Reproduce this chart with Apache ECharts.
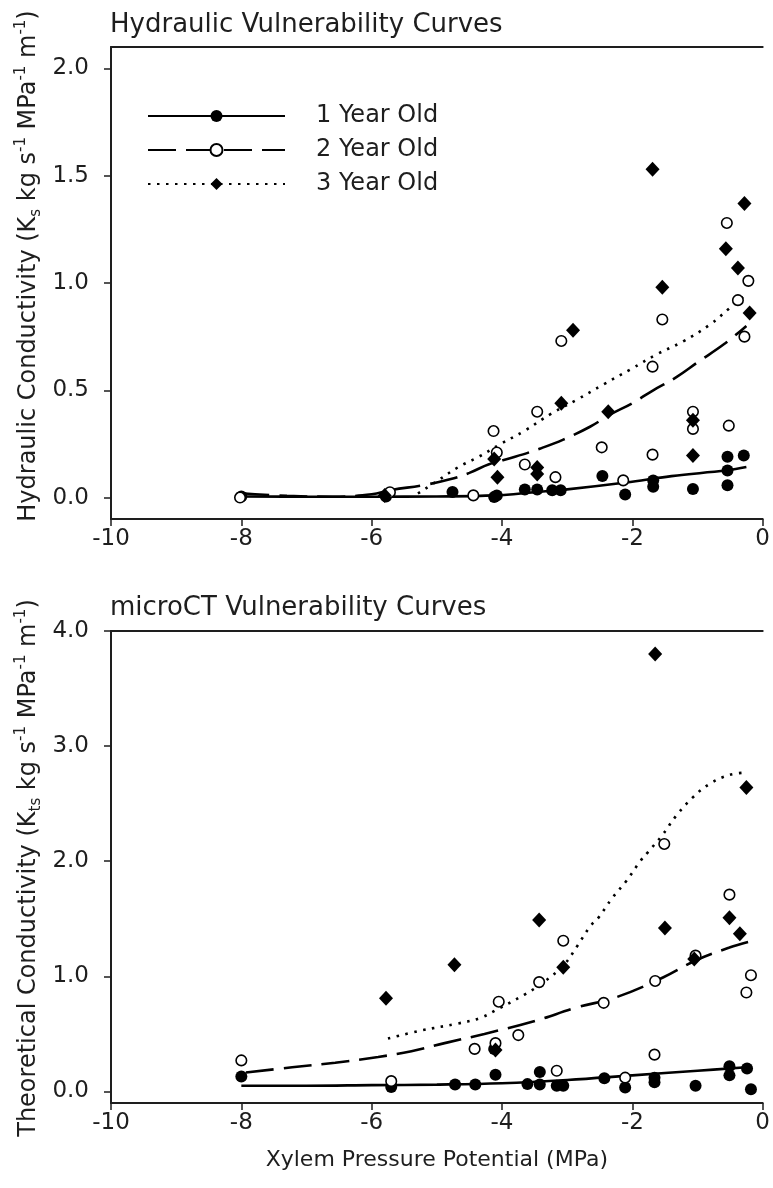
<!DOCTYPE html>
<html>
<head>
<meta charset="utf-8">
<title>Vulnerability Curves</title>
<script src="https://cdn.jsdelivr.net/npm/echarts@6/dist/echarts.min.js"></script>
<style>
    html, body { margin: 0; padding: 0; background: #fff; }
    #chart { width: 773px; height: 1188px; }
</style>
</head>
<body>
<div id="chart"></div>
<script>
// [xylem pressure potential (MPa), conductivity]
// top panel: measured hydraulic conductivity
var hydOne = [[-8.0,0.005],[-5.78,0.005],[-4.76,0.026],[-4.12,0.003],[-4.08,0.01],[-3.65,0.037],[-3.46,0.037],
    [-3.23,0.034],[-3.1,0.034],[-2.46,0.10],[-2.11,0.014],[-1.68,0.08],[-1.68,0.05],[-1.07,0.04],
    [-0.54,0.19],[-0.54,0.126],[-0.54,0.057],[-0.29,0.196]];
var hydTwo = [[-8.02,0.0],[-5.72,0.025],[-4.44,0.01],[-4.13,0.31],[-4.08,0.21],[-3.65,0.154],[-3.46,0.40],
    [-3.18,0.095],[-3.09,0.73],[-2.47,0.234],[-2.14,0.08],[-1.69,0.20],[-1.69,0.61],[-1.54,0.83],
    [-1.07,0.40],[-1.07,0.32],[-0.55,1.28],[-0.52,0.335],[-0.38,0.92],[-0.28,0.75],[-0.22,1.01]];
var hydThree = [[-5.8,0.01],[-4.12,0.18],[-4.07,0.095],[-3.46,0.14],[-3.46,0.11],[-3.09,0.44],[-2.91,0.78],
    [-2.37,0.40],[-1.69,1.53],[-1.54,0.98],[-1.07,0.36],[-1.07,0.196],[-0.565,1.16],[-0.38,1.07],
    [-0.28,1.37],[-0.2,0.86]];

// top panel: fitted curves
var hydFitOne = [[-8,0.005],[-7,0.004],[-6,0.004],[-5,0.005],[-4.1,0.01],[-3.5,0.025],[-3,0.038],
    [-2.1,0.07],[-1.4,0.10],[-0.55,0.127],[-0.25,0.142]];
var hydFitTwo = [[-8,0.02],[-7.3,0.008],[-6.6,0.004],[-6,0.015],[-5.7,0.035],[-5.2,0.058],[-4.8,0.085],
    [-4.5,0.115],[-4.2,0.155],[-3.8,0.19],[-3.4,0.23],[-3.06,0.27],[-2.65,0.33],[-2.35,0.385],
    [-2.0,0.44],[-1.68,0.50],[-1.33,0.56],[-1.0,0.63],[-0.57,0.72],[-0.25,0.80]];
var hydFitThree = [[-5.29,0.019],[-4.98,0.08],[-4.67,0.142],[-4.37,0.188],[-4.02,0.25],[-3.66,0.31],
    [-3.25,0.39],[-2.84,0.458],[-2.44,0.528],[-2.03,0.597],[-1.63,0.667],[-1.22,0.728],
    [-0.81,0.806],[-0.51,0.882],[-0.26,0.944]];

// bottom panel: microCT theoretical conductivity
var ctOne = [[-8.0,0.13],[-5.7,0.04],[-4.72,0.06],[-4.41,0.06],[-4.1,0.145],[-4.12,0.37],[-3.61,0.064],
    [-3.42,0.17],[-3.42,0.06],[-3.16,0.05],[-3.06,0.05],[-2.43,0.116],[-2.11,0.035],[-1.66,0.12],
    [-1.66,0.08],[-1.03,0.05],[-0.51,0.22],[-0.51,0.14],[-0.24,0.2],[-0.18,0.02]];
var ctTwo = [[-8.0,0.27],[-5.7,0.09],[-4.42,0.37],[-4.1,0.42],[-4.05,0.78],[-3.75,0.49],[-3.43,0.95],
    [-3.16,0.18],[-3.06,1.31],[-2.44,0.77],[-2.11,0.12],[-1.66,0.32],[-1.65,0.96],[-1.51,2.15],
    [-1.03,1.18],[-0.51,1.71],[-0.25,0.86],[-0.18,1.01]];
var ctThree = [[-5.78,0.81],[-4.73,1.10],[-4.1,0.36],[-3.43,1.49],[-3.06,1.08],[-1.65,3.80],[-1.5,1.42],
    [-1.05,1.15],[-0.51,1.51],[-0.35,1.37],[-0.25,2.64]];

var ctFitOne = [[-8,0.05],[-7,0.05],[-6,0.055],[-5,0.06],[-4,0.072],[-3,0.10],[-2,0.14],[-1,0.18],[-0.25,0.21]];
var ctFitTwo = [[-7.93,0.165],[-7.22,0.21],[-6.56,0.25],[-5.9,0.30],[-5.39,0.35],[-4.88,0.42],[-4.27,0.50],
    [-3.51,0.61],[-2.85,0.73],[-2.24,0.82],[-1.53,0.99],[-1.02,1.14],[-0.51,1.25],[-0.21,1.30]];
var ctFitThree = [[-5.75,0.46],[-5.24,0.53],[-4.68,0.59],[-4.33,0.64],[-4.05,0.72],[-3.66,0.84],
    [-3.36,0.95],[-3.05,1.1],[-2.85,1.26],[-2.64,1.44],[-2.52,1.51],[-2.31,1.68],[-2.09,1.83],
    [-1.88,2.0],[-1.76,2.08],[-1.55,2.22],[-1.32,2.40],[-1.08,2.55],[-0.82,2.67],[-0.51,2.75],[-0.25,2.77]];

var ageNames = ['1 Year Old', '2 Year Old', '3 Year Old'];
var pressureTicks = [-10, -8, -6, -4, -2, 0];
var hydTicks = [0, 0.5, 1, 1.5, 2];
var ctTicks = [0, 1, 2, 3, 4];

var FONT = 'DejaVu Sans';
var INK = '#1e1e1e';

var chart = echarts.init(document.getElementById('chart'));

function bottomAxis(grid, withName) {
    var ax = {
        type: 'value', gridIndex: grid, position: 'bottom',
        min: -10, max: 0, interval: 2,
        axisLine: { onZero: false, lineStyle: { color: INK, width: 2 } },
        axisTick: { length: 7, lineStyle: { color: INK, width: 1.5 }, customValues: pressureTicks },
        axisLabel: { margin: 9, fontFamily: FONT, fontSize: 23, color: INK, customValues: pressureTicks },
        splitLine: { show: false }
    };
    if (withName) {
        ax.name = 'Xylem Pressure Potential (MPa)';
        ax.nameLocation = 'middle';
        ax.nameGap = 46;
        ax.nameTextStyle = { fontFamily: FONT, fontSize: 22, color: INK };
    }
    return ax;
}

function frameAxis(grid) {
    return {
        type: 'value', gridIndex: grid, position: 'top', min: -10, max: 0,
        axisLine: { onZero: false, lineStyle: { color: INK, width: 2 } },
        axisTick: { show: false }, axisLabel: { show: false }, splitLine: { show: false }
    };
}

function leftAxis(grid, max, ticks) {
    return {
        type: 'value', gridIndex: grid, min: -0.1, max: max,
        axisLine: { show: true, onZero: false, lineStyle: { color: INK, width: 2 } },
        axisTick: { show: true, length: 7, lineStyle: { color: INK, width: 1.5 }, customValues: ticks },
        axisLabel: {
            margin: 22, fontFamily: FONT, fontSize: 23, color: INK, customValues: ticks,
            formatter: function (v) { return v.toFixed(1); }
        },
        splitLine: { show: false }
    };
}

function fitSeries(name, data, xi, yi, dash, symbol) {
    return {
        name: name, type: 'line', xAxisIndex: xi, yAxisIndex: yi, data: data,
        smooth: 0.4, showSymbol: false, symbol: symbol, symbolSize: 12,
        itemStyle: { color: '#000', opacity: 1 },
        lineStyle: { color: '#000', width: 2.6, type: dash },
        emphasis: { disabled: true }, z: 2
    };
}

function pointSeries(name, data, xi, yi, kind) {
    var s = {
        name: name, type: 'scatter', xAxisIndex: xi, yAxisIndex: yi, data: data,
        emphasis: { disabled: true }, z: 3
    };
    if (kind === 'filled') {
        s.symbol = 'circle'; s.symbolSize = 12;
        s.itemStyle = { color: '#000', opacity: 1 };
    } else if (kind === 'open') {
        s.symbol = 'circle'; s.symbolSize = 10.5;
        s.itemStyle = { color: '#fff', borderColor: '#000', borderWidth: 1.6, opacity: 1 };
    } else {
        s.symbol = 'diamond'; s.symbolSize = [14, 15];
        s.itemStyle = { color: '#000', opacity: 1 };
    }
    return s;
}

function axisTitle(main, sub, y) {
    return {
        type: 'text', x: 29, y: y, rotation: Math.PI / 2,
        style: {
            text: '{a|' + main + ' (K}{b|' + sub + '}{a| kg s}{c|-1}{a| MPa}{c|-1}{a| m}{c|-1}{a|)}',
            align: 'center', verticalAlign: 'middle', fill: INK,
            fontFamily: FONT, fontSize: 24,
            rich: {
                a: { fontFamily: FONT, fontSize: 24, lineHeight: 30, fill: INK },
                b: { fontFamily: FONT, fontSize: 15, lineHeight: 18, verticalAlign: 'bottom', fill: INK },
                c: { fontFamily: FONT, fontSize: 15, lineHeight: 18, verticalAlign: 'top', fill: INK }
            }
        }
    };
}

var option = {
    animation: false,
    backgroundColor: '#fff',
    title: [
        { text: 'Hydraulic Vulnerability Curves', left: 110, top: 12, padding: 0,
          textStyle: { fontFamily: FONT, fontSize: 26, fontWeight: 'normal', color: INK } },
        { text: 'microCT Vulnerability Curves', left: 110, top: 595, padding: 0,
          textStyle: { fontFamily: FONT, fontSize: 26, fontWeight: 'normal', color: INK } }
    ],
    legend: {
        orient: 'vertical', left: 147, top: 104, padding: 0,
        itemWidth: 137, itemHeight: 15, itemGap: 10,
        selectedMode: false,
        data: ageNames,
        textStyle: { fontFamily: FONT, fontSize: 24, color: INK, padding: [0, 0, 0, 26] }
    },
    grid: [
        { left: 111, right: 6, top: 47, height: 472 },
        { left: 111, right: 6, top: 631, height: 472 }
    ],
    xAxis: [bottomAxis(0, false), frameAxis(0), bottomAxis(1, true), frameAxis(1)],
    yAxis: [leftAxis(0, 2.1, hydTicks), leftAxis(1, 4.0, ctTicks)],
    graphic: [
        axisTitle('Hydraulic Conductivity', 's', 266),
        axisTitle('Theoretical Conductivity', 'ts', 868)
    ],
    series: [
        fitSeries(ageNames[0], hydFitOne, 0, 0, 'solid', 'circle'),
        fitSeries(ageNames[1], hydFitTwo, 0, 0, [28, 10], 'emptyCircle'),
        fitSeries(ageNames[2], hydFitThree, 0, 0, [2.5, 6.5], 'diamond'),
        pointSeries(ageNames[0], hydOne, 0, 0, 'filled'),
        pointSeries(ageNames[1], hydTwo, 0, 0, 'open'),
        pointSeries(ageNames[2], hydThree, 0, 0, 'diamond'),

        fitSeries(ageNames[0], ctFitOne, 2, 1, 'solid', 'circle'),
        fitSeries(ageNames[1], ctFitTwo, 2, 1, [28, 10], 'emptyCircle'),
        fitSeries(ageNames[2], ctFitThree, 2, 1, [2.5, 6.5], 'diamond'),
        pointSeries(ageNames[0], ctOne, 2, 1, 'filled'),
        pointSeries(ageNames[1], ctTwo, 2, 1, 'open'),
        pointSeries(ageNames[2], ctThree, 2, 1, 'diamond')
    ]
};

chart.setOption(option);
</script>
</body>
</html>
